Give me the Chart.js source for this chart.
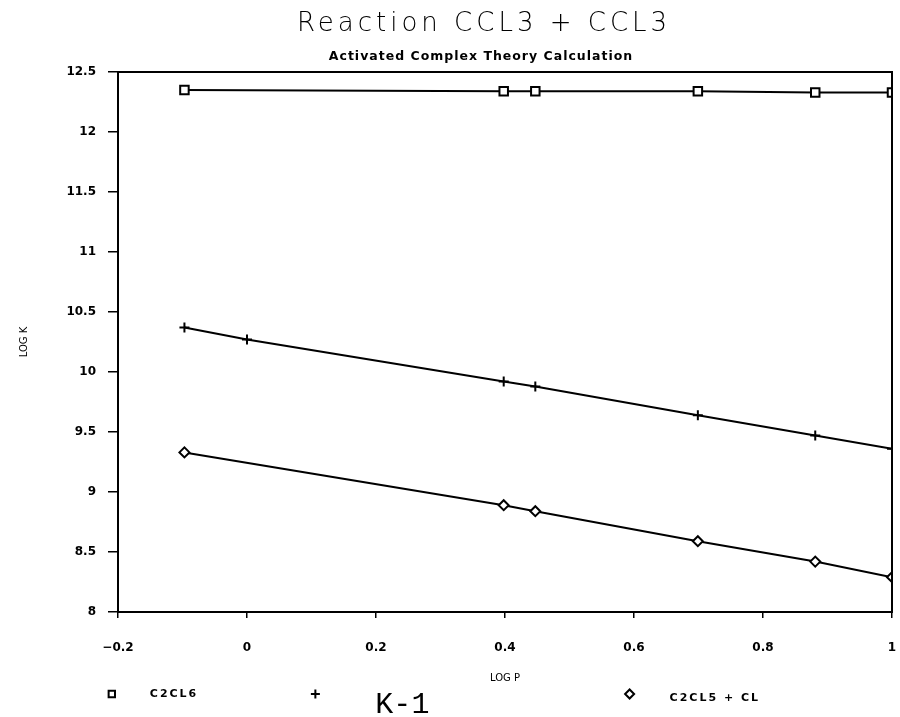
<!DOCTYPE html>
<html>
<head>
<meta charset="utf-8">
<script src="https://cdn.jsdelivr.net/npm/chart.js@4.4.1/dist/chart.umd.min.js"></script>
<style>
  html, body { margin: 0; padding: 0; background: #fff; }
  #wrap { width: 900px; height: 717px; }
</style>
</head>
<body>
<div id="wrap"><canvas id="myChart-Reaction"></canvas></div>
<script>
const logP = [-0.097, 0, 0.398, 0.447, 0.699, 0.881, 1];
const c2cl6 = [12.35, null, 12.34, 12.34, 12.34, 12.33, 12.33];
const k1 = [10.37, 10.27, 9.92, 9.88, 9.64, 9.47, 9.36];
const c2cl5 = [9.33, null, 8.89, 8.84, 8.59, 8.42, 8.29];
const seriesNames = ['C2CL6', 'K-1', 'C2CL5 + CL'];
const xTicks = [-0.2, 0, 0.2, 0.4, 0.6, 0.8, 1];
const yTicks = [8, 8.5, 9, 9.5, 10, 10.5, 11, 11.5, 12, 12.5];

const titleText = 'Reaction CCL3 + CCL3';
const subtitleText = 'Activated Complex Theory Calculation';

function points(ys) {
  return logP.map((x, i) => ({ x: x, y: ys[i] }));
}

function tickText(v) {
  return v < 0 ? '\u2212' + Math.abs(v) : String(v);
}

// box round the plot, titles and the bottom legend
const framePlugin = {
  id: 'frame',
  afterDraw(chart) {
    const { ctx, chartArea } = chart;
    ctx.save();
    ctx.strokeStyle = '#000';
    ctx.lineWidth = 2;
    ctx.strokeRect(chartArea.left, chartArea.top, chartArea.right - chartArea.left, chartArea.bottom - chartArea.top);

    ctx.fillStyle = '#000';
    ctx.textAlign = 'center';
    ctx.textBaseline = 'middle';
    ctx.letterSpacing = '4px';
    ctx.font = '300 26px "DejaVu Sans"';
    ctx.fillText(titleText, 484, 24);
    ctx.letterSpacing = '1px';
    ctx.font = 'bold 12.5px "DejaVu Sans"';
    ctx.fillText(subtitleText, 481, 57);

    const w = chartArea.right - chartArea.left;
    const y = 694;
    const slots = [-0.008, 0.255, 0.661];
    const textOff = [38, 60, 40];
    chart.data.datasets.forEach((ds, i) => {
      const mx = chartArea.left + w * slots[i];
      ctx.fillStyle = '#fff';
      ctx.strokeStyle = '#000';
      ctx.lineWidth = 2;
      Chart.helpers.drawPoint(ctx, {
        pointStyle: ds.pointStyle,
        radius: 4.5,
        borderWidth: 2
      }, mx, y);
      ctx.fillStyle = '#000';
      ctx.textAlign = 'left';
      if (i === 1) {
        ctx.letterSpacing = '0px';
        ctx.font = '30px "Liberation Mono"';
        ctx.fillText(seriesNames[i], mx + textOff[i], y + 11);
      } else {
        ctx.letterSpacing = '2px';
        ctx.font = 'bold 11px "DejaVu Sans"';
        ctx.fillText(seriesNames[i], mx + textOff[i], y + (i === 2 ? 4 : 0));
      }
    });
    ctx.restore();
  }
};

const reactionChart = document.getElementById('myChart-Reaction');

new Chart(reactionChart, {
  type: 'line',
  data: {
    datasets: [
      {
        label: seriesNames[0],
        data: points(c2cl6),
        pointStyle: 'rect',
        pointRadius: 6
      },
      {
        label: seriesNames[1],
        data: points(k1),
        pointStyle: 'cross',
        pointRadius: 5
      },
      {
        label: seriesNames[2],
        data: points(c2cl5),
        pointStyle: 'rectRot',
        pointRadius: 5
      }
    ]
  },
  options: {
    responsive: true,
    maintainAspectRatio: false,
    animation: false,
    spanGaps: true,
    elements: {
      line: { borderColor: '#000', borderWidth: 2, tension: 0 },
      point: { borderColor: '#000', backgroundColor: '#fff', borderWidth: 2 }
    },
    layout: {
      padding: { top: 72, right: 7, bottom: 25, left: 15 }
    },
    plugins: {
      legend: { display: false },
      tooltip: { enabled: false }
    },
    scales: {
      x: {
        type: 'linear',
        min: xTicks[0],
        max: xTicks[xTicks.length - 1],
        afterBuildTicks: s => { s.ticks = xTicks.map(v => ({ value: v })); },
        afterFit: s => { s.height = 80; s.paddingLeft = 0; s.paddingRight = 0; },
        border: { display: true, color: '#000', width: 2 },
        grid: { drawOnChartArea: false, color: '#000', tickLength: 6, lineWidth: 1.5 },
        ticks: {
          color: '#000',
          padding: 23,
          maxRotation: 0,
          font: { family: 'DejaVu Sans', size: 12, weight: 'bold' },
          callback: v => tickText(v)
        },
        title: {
          display: true,
          text: 'LOG P',
          color: '#000',
          padding: { top: 0, bottom: 8 },
          font: { family: 'DejaVu Sans', size: 10 }
        }
      },
      y: {
        min: yTicks[0],
        max: yTicks[yTicks.length - 1],
        afterBuildTicks: s => { s.ticks = yTicks.map(v => ({ value: v })); },
        afterFit: s => { s.width = 103; },
        border: { display: true, color: '#000', width: 2 },
        grid: { drawOnChartArea: false, color: '#000', tickLength: 10, lineWidth: 1.5 },
        ticks: {
          color: '#000',
          padding: 12,
          font: { family: 'DejaVu Sans', size: 12, weight: 'bold' },
          callback: v => tickText(v)
        },
        title: {
          display: true,
          text: 'LOG K',
          color: '#000',
          padding: 3,
          font: { family: 'DejaVu Sans', size: 10 }
        }
      }
    }
  },
  plugins: [framePlugin]
});
</script>
</body>
</html>
